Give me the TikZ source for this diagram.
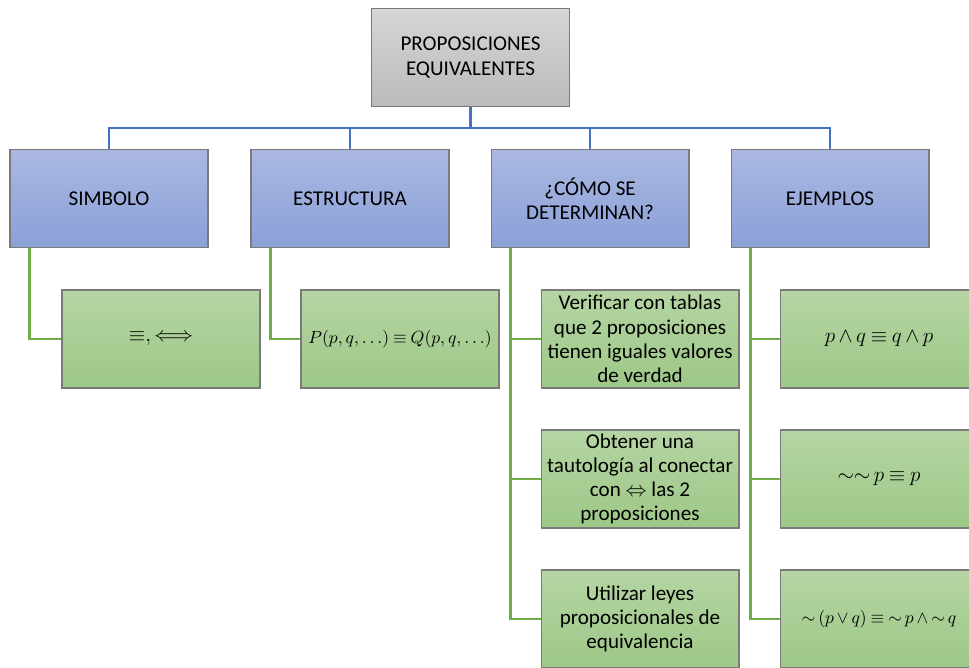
\documentclass[tikz,border=0pt]{standalone}
\usepackage{fontspec}
\usepackage{amsmath}
\usepackage{amssymb}
\setmainfont{Carlito}
\definecolor{boxline}{HTML}{7A7A7A}
\definecolor{linkblue}{HTML}{4472C4}
\definecolor{linkgreen}{HTML}{70AD47}
\definecolor{graytop}{HTML}{D6D6D6}
\definecolor{graybot}{HTML}{BABABA}
\definecolor{bluetop}{HTML}{AAB8E1}
\definecolor{bluebot}{HTML}{8BA0D8}
\definecolor{greentop}{HTML}{B5D5A3}
\definecolor{greenbot}{HTML}{9DC887}
\begin{document}
\begin{tikzpicture}[x=0.02cm,y=-0.02cm,
  every node/.style={font=\fontsize{12}{13.8}\selectfont, align=center, inner sep=1pt},
  box/.style={draw=boxline, line width=0.6pt, minimum width=3.96cm, minimum height=1.96cm},
  topbox/.style={box, top color=graytop, bottom color=graybot},
  headbox/.style={box, top color=bluetop, bottom color=bluebot},
  leafbox/.style={box, top color=greentop, bottom color=greenbot,
    execute at begin node={\thickmuskip=4mu\medmuskip=3mu}},
  smallmath/.style={font=\fontsize{10.3}{12}\selectfont},
  bluelink/.style={draw=linkblue, line width=1.6pt},
  greenlink/.style={draw=linkgreen, line width=1.6pt}]
  \useasboundingbox (0,0) rectangle (969,668);
  \clip (0,0) rectangle (969,668);
  % top
  \node [topbox] (top) at (470.5,57.5) {PROPOSICIONES\\EQUIVALENTES};
  % second level
  \node [headbox] (simbolo) at (109,198.5) {SIMBOLO};
  \node [headbox] (estructura) at (350,198.5) {ESTRUCTURA};
  \node [headbox] (como) at (590,198.5) {¿CÓMO SE\\DETERMINAN?};
  \node [headbox] (ejemplos) at (830,198.5) {EJEMPLOS};
  % third level
  \node [leafbox] (sim1) at (161,339) {\fontsize{13}{15}\selectfont $\equiv,\Longleftrightarrow$};
  \node [leafbox, smallmath] (est1) at (400,339) {$P(p,q,\ldots)\equiv Q(p,q,\ldots)$};
  \node [leafbox] (como1) at (640,339) {Verificar con tablas\\que 2 proposiciones\\tienen iguales valores\\de verdad};
  \node [leafbox] (como2) at (640,479) {Obtener una\\tautología al conectar\\con $\Leftrightarrow$ las 2\\proposiciones};
  \node [leafbox] (como3) at (640,619) {Utilizar leyes\\proposicionales de\\equivalencia};
  \node [leafbox] (ej1) at (879,339) {$p\wedge q\equiv q\wedge p$};
  \node [leafbox] (ej2) at (879,479) {${\sim}{\sim}\,p\equiv p$};
  \node [leafbox, smallmath] (ej3) at (879,619) {${\sim}\,(p\vee q)\equiv{\sim}\,p\wedge{\sim}\,q$};
  % connectors
  \foreach \b in {simbolo,estructura,como,ejemplos}
    \draw [bluelink] (top.south) -- ++(0,21) -| (\b.north);
  \draw [greenlink] ([xshift=0.4cm]simbolo.south west) |- (sim1.west);
  \draw [greenlink] ([xshift=0.4cm]estructura.south west) |- (est1.west);
  \foreach \c in {como1,como2,como3}
    \draw [greenlink] ([xshift=0.4cm]como.south west) |- (\c.west);
  \foreach \c in {ej1,ej2,ej3}
    \draw [greenlink] ([xshift=0.4cm]ejemplos.south west) |- (\c.west);
\end{tikzpicture}
\end{document}
